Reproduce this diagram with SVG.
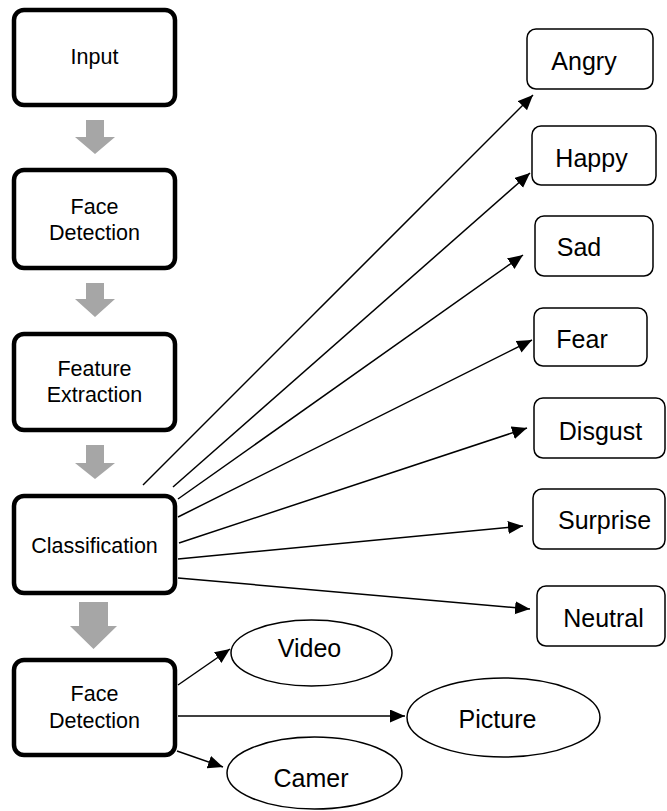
<svg xmlns="http://www.w3.org/2000/svg" width="667" height="811" viewBox="0 0 667 811">
<style>
.main{fill:#fff;stroke:#000;stroke-width:4.5}
.emo{fill:#fff;stroke:#000;stroke-width:1.5}
.ell{fill:#fff;stroke:#000;stroke-width:1.5}
.blk{fill:#a6a6a6;stroke:none}
.t{font-family:"Liberation Sans",Arial,sans-serif;fill:#000;text-anchor:middle}
.tm{font-size:21.5px}
.te{font-size:25px}
.conn line{stroke:#000;stroke-width:1.5;marker-end:url(#ah)}
</style>
<defs>
<marker id="ah" markerUnits="userSpaceOnUse" markerWidth="16" markerHeight="14" refX="15" refY="6.5" orient="auto">
<path d="M0,0 L15,6.5 L0,13 z" fill="#000"/>
</marker>
</defs>
<rect width="667" height="811" fill="#fff"/>
<g id="flow-arrows">
<polygon class="blk" points="86,120 104,120 104,137 115,137 95,154 75,137 86,137"/>
<polygon class="blk" points="86,283 104,283 104,299 115,299 95,317 75,299 86,299"/>
<polygon class="blk" points="86,445 104,445 104,463 115,463 95,479 75,463 86,463"/>
<polygon class="blk" points="79,602 108,602 108,626 117,626 93.5,649 70,626 79,626"/>
</g>
<g id="connectors" class="conn">
<line x1="143" y1="485" x2="533" y2="95"/>
<line x1="173" y1="487" x2="530" y2="173"/>
<line x1="178" y1="499" x2="523" y2="255"/>
<line x1="178" y1="517" x2="532" y2="340"/>
<line x1="179" y1="543" x2="527" y2="428"/>
<line x1="178" y1="559" x2="523" y2="526"/>
<line x1="178" y1="578" x2="530" y2="609"/>
<line x1="178" y1="685" x2="230" y2="649"/>
<line x1="178" y1="716" x2="405" y2="716"/>
<line x1="177" y1="751" x2="223" y2="767"/>
</g>
<g id="input"><rect class="main" x="14" y="10" width="161" height="95" rx="10"/><text class="t tm" x="94.5" y="64">Input</text></g>
<g id="face-detection-1"><rect class="main" x="14" y="170" width="161" height="98" rx="10"/><text class="t tm" x="94.5" y="214">Face</text><text class="t tm" x="94.5" y="240">Detection</text></g>
<g id="feature-extraction"><rect class="main" x="14" y="334" width="161" height="96" rx="10"/><text class="t tm" x="94.5" y="376">Feature</text><text class="t tm" x="94.5" y="402">Extraction</text></g>
<g id="classification"><rect class="main" x="14" y="496" width="161" height="97" rx="10"/><text class="t tm" x="94.5" y="553">Classification</text></g>
<g id="face-detection-2"><rect class="main" x="14" y="660" width="161" height="95" rx="10"/><text class="t tm" x="94.5" y="701">Face</text><text class="t tm" x="94.5" y="728">Detection</text></g>
<g id="angry"><rect class="emo" x="527" y="29" width="126" height="60" rx="9"/><text class="t te" x="584" y="70">Angry</text></g>
<g id="happy"><rect class="emo" x="532" y="126" width="124" height="59" rx="9"/><text class="t te" x="591.5" y="167">Happy</text></g>
<g id="sad"><rect class="emo" x="535" y="216" width="118" height="60" rx="9"/><text class="t te" x="579" y="256">Sad</text></g>
<g id="fear"><rect class="emo" x="534" y="308" width="113" height="58" rx="9"/><text class="t te" x="582" y="348">Fear</text></g>
<g id="disgust"><rect class="emo" x="534" y="398" width="131" height="60" rx="9"/><text class="t te" x="600.5" y="440">Disgust</text></g>
<g id="surprise"><rect class="emo" x="533" y="489" width="132" height="60" rx="9"/><text class="t te" x="604.5" y="529">Surprise</text></g>
<g id="neutral"><rect class="emo" x="537" y="586" width="128" height="60" rx="9"/><text class="t te" x="603.5" y="627">Neutral</text></g>
<g id="video"><ellipse class="ell" cx="311.5" cy="653" rx="80.5" ry="33"/><text class="t te" x="309.5" y="657">Video</text></g>
<g id="picture"><ellipse class="ell" cx="503.5" cy="717.5" rx="96.5" ry="39.5"/><text class="t te" x="497.5" y="728">Picture</text></g>
<g id="camer"><ellipse class="ell" cx="314.5" cy="773" rx="87.5" ry="36"/><text class="t te" x="311" y="787">Camer</text></g>
</svg>
